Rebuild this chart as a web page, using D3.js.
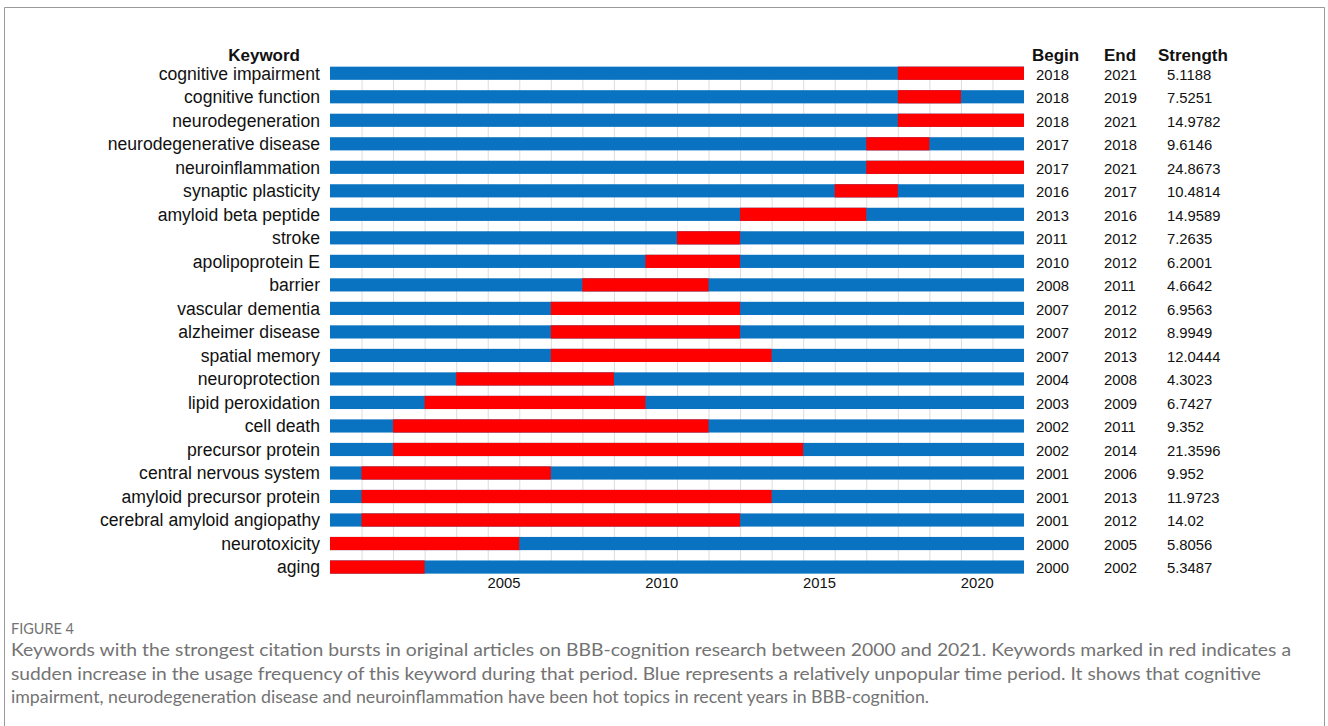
<!DOCTYPE html>
<meta charset="utf-8">
<title>Keywords with the strongest citation bursts</title>
<style>
body { margin: 0; background: #fff; }
svg text { font-family: "Liberation Sans", Arial, sans-serif; }
.caption { font-family: "Lato", "Open Sans", sans-serif; fill: #737373; }
</style>
<div id="chart"></div>
<script src="https://d3js.org/d3.v7.min.js"></script>
<script>
// keywords, top to bottom
var keywords = ["cognitive impairment", "cognitive function", "neurodegeneration",
  "neurodegenerative disease", "neuroinflammation", "synaptic plasticity",
  "amyloid beta peptide", "stroke", "apolipoprotein E", "barrier",
  "vascular dementia", "alzheimer disease", "spatial memory", "neuroprotection",
  "lipid peroxidation", "cell death", "precursor protein", "central nervous system",
  "amyloid precursor protein", "cerebral amyloid angiopathy", "neurotoxicity", "aging"];
var begins = [2018, 2018, 2018, 2017, 2017, 2016, 2013, 2011, 2010, 2008, 2007,
  2007, 2007, 2004, 2003, 2002, 2002, 2001, 2001, 2001, 2000, 2000];
var ends = [2021, 2019, 2021, 2018, 2021, 2017, 2016, 2012, 2012, 2011, 2012,
  2012, 2013, 2008, 2009, 2011, 2014, 2006, 2013, 2012, 2005, 2002];
var strengths = ["5.1188", "7.5251", "14.9782", "9.6146", "24.8673", "10.4814",
  "14.9589", "7.2635", "6.2001", "4.6642", "6.9563", "8.9949", "12.0444",
  "4.3023", "6.7427", "9.352", "21.3596", "9.952", "11.9723", "14.02",
  "5.8056", "5.3487"];
var firstYear = 2000, lastYear = 2021;
var tickYears = [2005, 2010, 2015, 2020];

var W = 1328, H = 726;
var blue = "#0a73c1", red = "#ff0000";

var svg = d3.select("#chart").append("svg")
  .attr("width", W).attr("height", H);

// frame
svg.append("path")
  .attr("d", "M4.5," + H + "V7.5H1324.5V" + H)
  .attr("fill", "none").attr("stroke", "#9a9a9a").attr("stroke-width", 1);

// year x scale: a year y occupies [x(y-1), x(y)]
var x = d3.scaleLinear().domain([firstYear - 1, lastYear]).range([330, 1024]);
var y = d3.scaleBand().domain(keywords).range([61.5, 578.8]).paddingInner(0.44).paddingOuter(0.22);

var years = d3.range(firstYear, lastYear + 1);

// vertical grid at year boundaries
svg.append("g").selectAll("line")
  .data(years.slice(0, -1))
  .join("line")
    .attr("x1", function(d) { return x(d) + 0.5; })
    .attr("x2", function(d) { return x(d) + 0.5; })
    .attr("y1", y(keywords[0]))
    .attr("y2", y(keywords[keywords.length - 1]) + y.bandwidth())
    .attr("stroke", "#dcdcdc").attr("stroke-width", 1);

// bars: blue background then red burst
var rows = svg.append("g").selectAll("g")
  .data(keywords)
  .join("g");
rows.append("rect")
  .attr("x", x(firstYear - 1))
  .attr("width", x(lastYear) - x(firstYear - 1))
  .attr("y", function(d) { return y(d); })
  .attr("height", y.bandwidth())
  .attr("fill", blue);
rows.append("rect")
  .attr("x", function(d, i) { return x(begins[i] - 1); })
  .attr("width", function(d, i) { return x(ends[i]) - x(begins[i] - 1); })
  .attr("y", function(d) { return y(d); })
  .attr("height", y.bandwidth())
  .attr("fill", red);

// keyword labels
rows.append("text")
  .attr("x", 320)
  .attr("y", function(d) { return y(d) + y.bandwidth() / 2; })
  .attr("dy", "0.36em")
  .attr("text-anchor", "end")
  .style("font-size", "17.6px")
  .attr("fill", "#111")
  .text(function(d) { return d; });

// begin / end / strength columns
var cols = [
  {x: 1036, vals: begins},
  {x: 1104, vals: ends},
  {x: 1167, vals: strengths}
];
cols.forEach(function(c) {
  svg.append("g").selectAll("text")
    .data(keywords)
    .join("text")
      .attr("x", c.x)
      .attr("y", function(d) { return y(d) + y.bandwidth() / 2 + 1; })
      .attr("dy", "0.36em")
      .style("font-size", "14.8px")
      .attr("fill", "#111")
      .text(function(d, i) { return c.vals[i]; });
});

// headers
var headers = [
  {t: "Keyword", x: 300, a: "end"},
  {t: "Begin", x: 1032, a: "start"},
  {t: "End", x: 1104, a: "start"},
  {t: "Strength", x: 1158, a: "start"}
];
svg.append("g").selectAll("text")
  .data(headers)
  .join("text")
    .attr("x", function(d) { return d.x; })
    .attr("y", 61)
    .attr("text-anchor", function(d) { return d.a; })
    .style("font-size", "17px")
    .style("font-weight", "bold")
    .attr("fill", "#111")
    .text(function(d) { return d.t; });

// x axis (labels only), each label centred on its year
svg.append("g")
  .attr("transform", "translate(0,574)")
  .call(d3.axisBottom(x).tickValues(tickYears.map(function(t) { return t - 0.5; }))
    .tickFormat(function(t) { return t + 0.5; }).tickSize(0))
  .call(function(g) { g.select(".domain").remove(); })
  .call(function(g) {
    g.selectAll("text").style("font-size", "14.8px").attr("fill", "#111")
      .style("font-family", "'Liberation Sans', Arial, sans-serif");
  });

// caption
svg.append("text")
  .attr("class", "caption")
  .attr("x", 11).attr("y", 634)
  .style("font-size", "15px")
  .attr("textLength", 63).attr("lengthAdjust", "spacingAndGlyphs")
  .text("FIGURE 4");
var captionLines = [
  "Keywords with the strongest citation bursts in original articles on BBB-cognition research between 2000 and 2021. Keywords marked in red indicates a",
  "sudden increase in the usage frequency of this keyword during that period. Blue represents a relatively unpopular time period. It shows that cognitive",
  "impairment, neurodegeneration disease and neuroinflammation have been hot topics in recent years in BBB-cognition."
];
var captionWidths = [1280, 1250, 918];
svg.append("g").selectAll("text")
  .data(captionLines)
  .join("text")
    .attr("class", "caption")
    .attr("x", 11)
    .attr("y", function(d, i) { return 656 + i * 23.5; })
    .style("font-size", "17px")
    .attr("textLength", function(d, i) { return captionWidths[i]; })
    .attr("lengthAdjust", "spacingAndGlyphs")
    .text(function(d) { return d; });
</script>
